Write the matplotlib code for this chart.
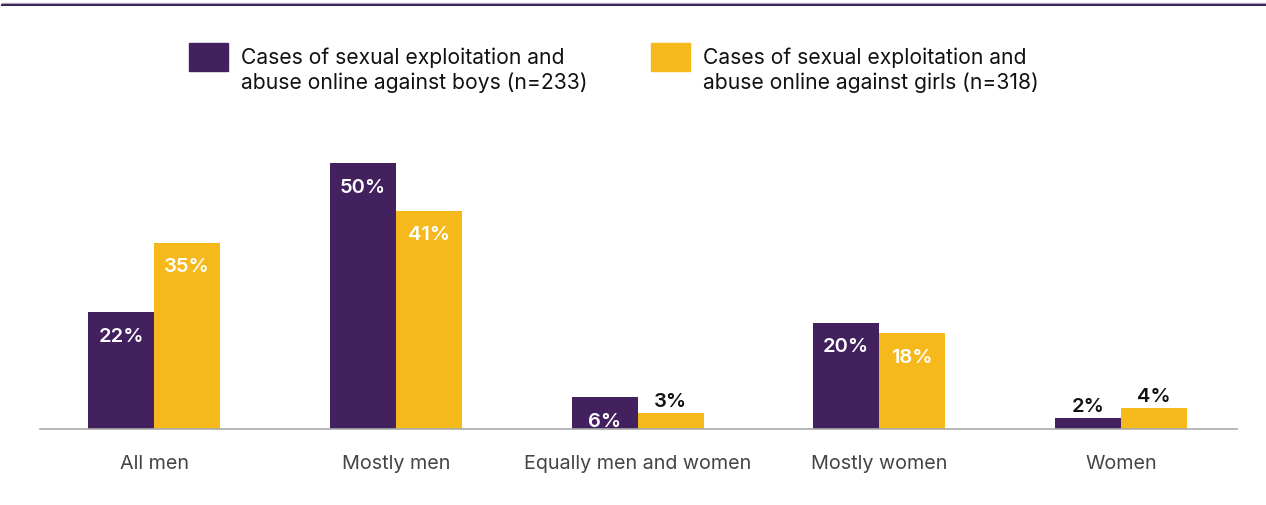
import numpy as np
import matplotlib.pyplot as plt
from matplotlib.patches import Rectangle
from matplotlib.lines import Line2D

plt.rcParams['font.family'] = ['Inter', 'DejaVu Sans']

categories = ['All men', 'Mostly men', 'Equally men and women', 'Mostly women', 'Women']
boys = [22, 50, 6, 20, 2]
girls = [35, 41, 3, 18, 4]
series_labels = ['Cases of sexual exploitation and\nabuse online against boys (n=233)',
                 'Cases of sexual exploitation and\nabuse online against girls (n=318)']

purple = '#42215e'
yellow = '#f6b91c'

W, H = 1266, 506
fig = plt.figure(figsize=(W / 100, H / 100), dpi=100)
ax = fig.add_axes([40 / W, 76 / H, (1237 - 40) / W, (430 - 110) / H])

x = np.arange(len(categories))
bw = 0.273
b1 = ax.bar(x - bw / 2, boys, bw, color=purple)
b2 = ax.bar(x + bw / 2, girls, bw, color=yellow)

# value labels: inside for tall bars, above for short ones
for bars, vals in ((b1, boys), (b2, girls)):
    for rect, v in zip(bars, vals):
        cx = rect.get_x() + rect.get_width() / 2
        if v >= 5:
            ax.annotate(f'{v}%', (cx, v), xytext=(0, -17), textcoords='offset points',
                        ha='center', va='center', color='white', fontsize=14.5,
                        fontweight='semibold')
        else:
            ax.annotate(f'{v}%', (cx, v), xytext=(0, 5), textcoords='offset points',
                        ha='center', va='baseline', color='#111111', fontsize=14.5,
                        fontweight='semibold')

ax.set_xlim(-0.472, 4.48)
ax.set_ylim(0, 60.15)
ax.set_xticks(x)
ax.set_xticklabels(categories, fontsize=14.2, color='#444444')
ax.tick_params(axis='x', length=0, pad=18)
ax.set_yticks([])
for s in ('top', 'right', 'left'):
    ax.spines[s].set_visible(False)
ax.spines['bottom'].set_color('#aaaaaa')
ax.spines['bottom'].set_linewidth(1.2)

# legend drawn by hand
for (x0, tx), col, lab in zip(((189, 241), (651, 703)), (purple, yellow), series_labels):
    fig.patches.append(Rectangle((x0 / W, 1 - 72 / H), 39 / W, 28 / H,
                                 transform=fig.transFigure, color=col))
    fig.text(tx / W, 1 - 47 / H, lab, fontsize=15.2, color='#111111',
             va='top', ha='left', linespacing=1.3)

# thin rule at the top
fig.add_artist(Line2D([2 / W, 1], [1 - 4 / H] * 2, color='#b9a9cc', lw=1))
fig.add_artist(Line2D([2 / W, 1], [1 - 5.5 / H] * 2, color='#3d2856', lw=1.5))

fig.savefig('out.png', dpi=100)
